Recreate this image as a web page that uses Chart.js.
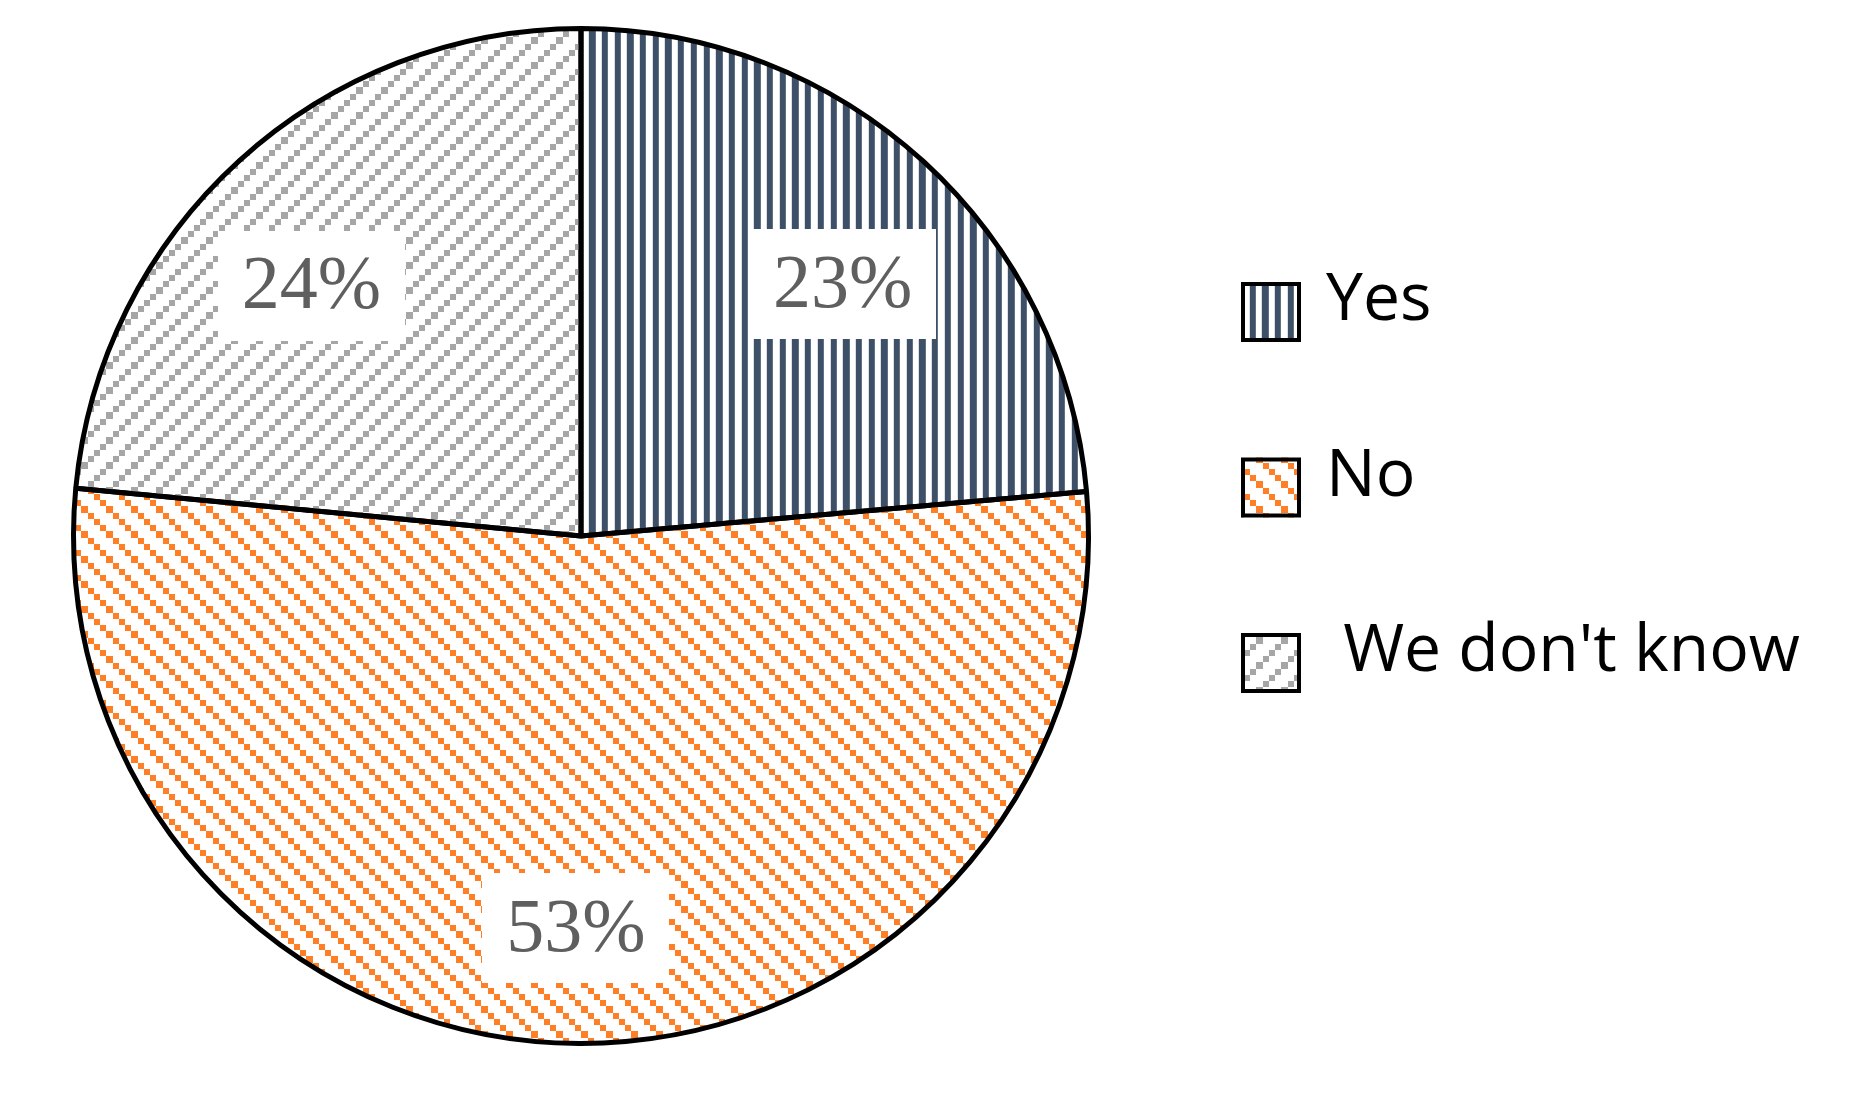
<!DOCTYPE html>
<html>
<head>
<meta charset="utf-8">
<title>Pie</title>
<script src="https://cdn.jsdelivr.net/npm/chart.js@4.4.1/dist/chart.umd.min.js"></script>
<style>
    html, body { margin: 0; padding: 0; background: #ffffff; }
    #wrap { width: 1851px; height: 1099px; position: relative; }
</style>
</head>
<body>
<div id="wrap"><canvas id="pieChart"></canvas></div>
<script>
// answers and their shares, plus the printed labels
const answers = ['Yes', 'No', ' We don\'t know'];
const shares = [23.6, 52.9, 23.5];
const shareLabels = ['23%', '53%', '24%'];

const NAVY = '#3d5068';
const ORANGE = '#ff7f27';
const GREY = '#a6a6a6';

function tile(w, h) {
    const c = document.createElement('canvas');
    c.width = w;
    c.height = h;
    return c;
}

// vertical stripes, about 12.7px apart
function stripePattern(color) {
    const c = tile(127, 4);
    const g = c.getContext('2d');
    g.fillStyle = color;
    for (let k = 0; k < 10; k++) {
        const x0 = Math.round(k * 12.7);
        const x1 = Math.round(k * 12.7 + 6.4);
        g.fillRect(x0, 0, x1 - x0, 4);
    }
    const p = document.createElement('canvas').getContext('2d').createPattern(c, 'repeat');
    p.setTransform(new DOMMatrix([1, 0, 0, 1, 4.8, 0]));
    return p;
}

// stair-step diagonal, "\" or "/" when mirrored
function stepPattern(color, mirror) {
    const size = 25;
    const c = tile(size, size);
    const g = c.getContext('2d');
    g.fillStyle = color;
    for (let k = 0; k < 4; k++) {
        const a = Math.round(k * 6.25);
        const b = Math.round((k + 1) * 6.25);
        const y = mirror ? size - b : a;
        g.fillRect(a, y, b - a, b - a);
    }
    return document.createElement('canvas').getContext('2d').createPattern(c, 'repeat');
}

const fills = [stripePattern(NAVY), stepPattern(ORANGE, false), stepPattern(GREY, true)];

// white boxed percentage labels inside the slices
const sliceLabels = {
    id: 'sliceLabels',
    afterDatasetsDraw(chart, args, opts) {
        const ctx = chart.ctx;
        const meta = chart.getDatasetMeta(0);
        ctx.save();
        ctx.font = opts.font;
        ctx.textAlign = 'center';
        ctx.textBaseline = 'middle';
        meta.data.forEach((arc, i) => {
            const p = arc.getProps(['x', 'y', 'startAngle', 'endAngle', 'outerRadius'], true);
            const mid = (p.startAngle + p.endAngle) / 2 + opts.turn[i] * Math.PI / 180;
            const r = p.outerRadius * opts.radius[i];
            const lx = p.x + Math.cos(mid) * r;
            const ly = p.y + Math.sin(mid) * r;
            const text = shareLabels[i];
            const w = ctx.measureText(text).width + 2 * opts.padX;
            ctx.fillStyle = '#ffffff';
            ctx.fillRect(Math.round(lx - w / 2), Math.round(ly - opts.boxH / 2), Math.round(w), opts.boxH);
            ctx.fillStyle = opts.color;
            ctx.fillText(text, lx, ly + opts.textDrop);
        });
        ctx.restore();
    }
};

// legend on the right, text sits a bit above the box centre
const sideLegend = {
    id: 'sideLegend',
    afterDraw(chart, args, opts) {
        const ctx = chart.ctx;
        const area = chart.chartArea;
        const ds = chart.data.datasets[0];
        const left = area.right + opts.gap;
        const firstMid = (area.top + area.bottom) / 2 + opts.offsetY;
        ctx.save();
        ctx.font = opts.font;
        ctx.textAlign = 'left';
        ctx.textBaseline = 'alphabetic';
        chart.data.labels.forEach((label, i) => {
            const cy = firstMid + i * opts.step;
            const half = opts.box / 2;
            const bw = opts.lineWidth;
            ctx.fillStyle = ds.backgroundColor[i];
            ctx.fillRect(left, cy - half, opts.box, opts.box);
            ctx.lineWidth = bw;
            ctx.strokeStyle = '#000000';
            ctx.strokeRect(left + bw / 2, cy - half + bw / 2, opts.box - bw, opts.box - bw);
            ctx.fillStyle = '#000000';
            ctx.fillText(label, left + opts.box + opts.textGap, cy + opts.textDrop);
        });
        ctx.restore();
    }
};

new Chart(document.getElementById('pieChart'), {
    type: 'pie',
    data: {
        labels: answers,
        datasets: [{
            data: shares,
            backgroundColor: fills,
            borderColor: '#000000',
            borderWidth: 5,
            hoverOffset: 0
        }]
    },
    options: {
        responsive: true,
        maintainAspectRatio: false,
        animation: false,
        layout: {
            padding: { top: 26, bottom: 53, left: 71, right: 760 }
        },
        plugins: {
            legend: { display: false },
            tooltip: { enabled: false },
            sliceLabels: {
                font: '76px "Liberation Serif", "Times New Roman", serif',
                color: '#5f5f5f',
                radius: [0.716, 0.772, 0.725],
                turn: [3.6, 0.55, -4.8],
                padX: 24,
                boxH: 110,
                textDrop: 3
            },
            sideLegend: {
                font: '66px "Open Sans", Lato, sans-serif',
                gap: 150,
                offsetY: -224,
                step: 175.5,
                box: 60,
                lineWidth: 4,
                textGap: 25,
                textDrop: 8
            }
        }
    },
    plugins: [sliceLabels, sideLegend]
});
</script>
</body>
</html>
